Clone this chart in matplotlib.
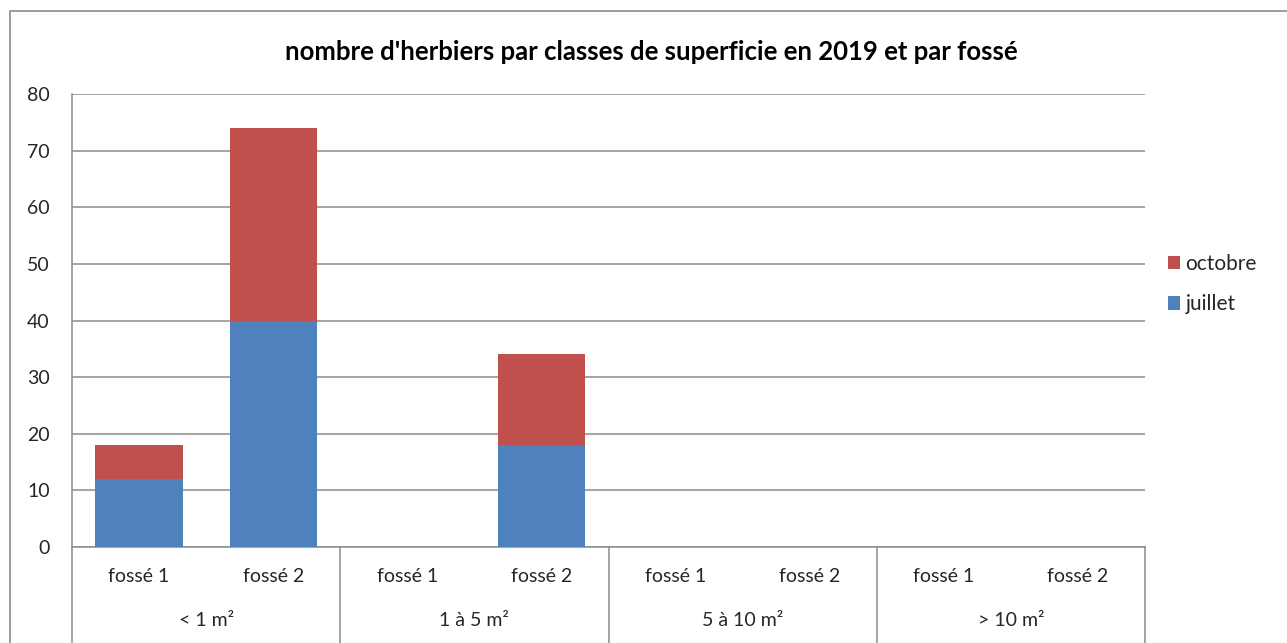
import matplotlib
matplotlib.use("Agg")
import matplotlib.pyplot as plt
from matplotlib.patches import Rectangle
import matplotlib.transforms as mtransforms
import numpy as np

plt.rcParams['font.family'] = ['Lato', 'DejaVu Sans']

title = "nombre d'herbiers par classes de superficie en 2019 et par fossé"
groups = ["< 1 m²", "1 à 5 m²", "5 à 10 m²", "> 10 m²"]
subcats = ["fossé 1", "fossé 2"]
juillet = [12, 40, 0, 18, 0, 0, 0, 0]
octobre = [6, 34, 0, 16, 0, 0, 0, 0]
yticks = [0, 10, 20, 30, 40, 50, 60, 70, 80]

c_juil = "#4F81BD"
c_oct = "#C0504D"
grid_c = "#8C8C8C"
text_c = "#262626"

W, H = 1287, 643
fig = plt.figure(figsize=(W / 100, H / 100), dpi=100)
fig.patch.set_facecolor("white")

# chart border
fig.patches.append(Rectangle((10 / W, -0.02), 1.05, 1 - 11 / H + 0.02,
                             transform=fig.transFigure, fill=False,
                             edgecolor="#8C8C8C", linewidth=1.2))

ax = fig.add_axes([72 / W, 1 - 547 / H, (1145 - 72) / W, (547 - 94) / H])

n = len(juillet)
x = np.arange(n)
ax.bar(x, juillet, width=0.65, color=c_juil, label="juillet", zorder=3)
ax.bar(x, octobre, width=0.65, bottom=juillet, color=c_oct, label="octobre", zorder=3)

ax.set_xlim(-0.5, n - 0.5)
ax.set_ylim(0, 80)
ax.set_yticks(yticks)
ax.set_yticklabels([str(v) for v in yticks], fontsize=14, color=text_c)
ax.tick_params(axis="y", length=0, pad=16)
ax.set_xticks([])
ax.yaxis.grid(True, color=grid_c, linewidth=1.1, zorder=0)
ax.set_axisbelow(True)

for s in ["top", "right"]:
    ax.spines[s].set_visible(False)
ax.spines["left"].set_color(grid_c)
ax.spines["bottom"].set_color(grid_c)
ax.spines["left"].set_linewidth(1.1)
ax.spines["bottom"].set_linewidth(1.1)

trans = mtransforms.blended_transform_factory(ax.transData, ax.transAxes)
axh = 547 - 94
# category labels
for i in range(n):
    ax.text(x[i], -29 / axh, subcats[i % 2], transform=trans, ha="center",
            va="center", fontsize=14, color=text_c)
for g, name in enumerate(groups):
    ax.text(2 * g + 0.5, -73 / axh, name, transform=trans, ha="center",
            va="center", fontsize=14, color=text_c)
# group dividers
for g in range(len(groups) + 1):
    ax.plot([2 * g - 0.5, 2 * g - 0.5], [0, -100 / axh], transform=trans,
            color=grid_c, linewidth=1.1, clip_on=False)

fig.text(0.5 * (283 + 1019) / W, 1 - 52 / H, title, ha="center", va="center",
         fontsize=18.5, fontweight="bold", color="black")

handles, labels = ax.get_legend_handles_labels()
leg = fig.legend(handles[::-1], labels[::-1], loc="center left",
                 bbox_to_anchor=(1149 / W, 1 - 284 / H), frameon=False,
                 fontsize=15, handlelength=0.6, handleheight=0.6,
                 handletextpad=0.25, labelspacing=1.0)
for t in leg.get_texts():
    t.set_color(text_c)

fig.savefig("out.png", dpi=100)
